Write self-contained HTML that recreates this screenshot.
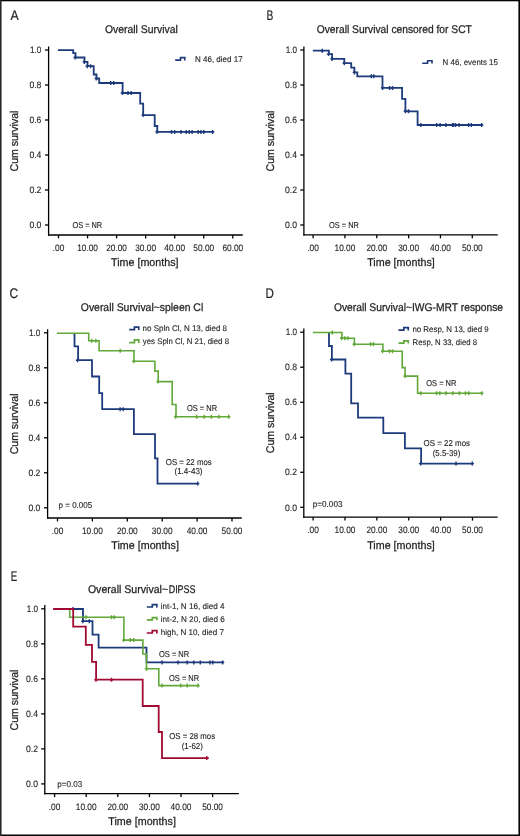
<!DOCTYPE html><html><head><meta charset="utf-8"><style>html,body{margin:0;padding:0;background:#fff;}svg{display:block;will-change:transform;text-rendering:geometricPrecision;}text{stroke:#231f20;stroke-width:0.12px;}text[font-size="11.2"]{stroke-width:0.26px;}text[font-size="13.9"]{stroke-width:0.2px;}svg{font-family:"Liberation Sans",sans-serif;}</style></head><body>
<svg width="520" height="836" viewBox="0 0 520 836">
<rect x="0" y="0" width="520" height="836" fill="#fff"/>
<line x1="48.60" y1="46.50" x2="48.60" y2="235.60" stroke="#000000" stroke-width="1.3"/>
<line x1="48.00" y1="235.00" x2="242.80" y2="235.00" stroke="#000000" stroke-width="1.3"/>
<line x1="45.00" y1="225.00" x2="48.60" y2="225.00" stroke="#000000" stroke-width="1.3"/>
<text x="41.40" y="228.20" font-size="9.3" textLength="12.00" lengthAdjust="spacingAndGlyphs" text-anchor="end" fill="#231f20">0.0</text>
<line x1="45.00" y1="190.00" x2="48.60" y2="190.00" stroke="#000000" stroke-width="1.3"/>
<text x="41.40" y="193.20" font-size="9.3" textLength="12.00" lengthAdjust="spacingAndGlyphs" text-anchor="end" fill="#231f20">0.2</text>
<line x1="45.00" y1="155.00" x2="48.60" y2="155.00" stroke="#000000" stroke-width="1.3"/>
<text x="41.40" y="158.20" font-size="9.3" textLength="12.00" lengthAdjust="spacingAndGlyphs" text-anchor="end" fill="#231f20">0.4</text>
<line x1="45.00" y1="120.00" x2="48.60" y2="120.00" stroke="#000000" stroke-width="1.3"/>
<text x="41.40" y="123.20" font-size="9.3" textLength="12.00" lengthAdjust="spacingAndGlyphs" text-anchor="end" fill="#231f20">0.6</text>
<line x1="45.00" y1="85.00" x2="48.60" y2="85.00" stroke="#000000" stroke-width="1.3"/>
<text x="41.40" y="88.20" font-size="9.3" textLength="12.00" lengthAdjust="spacingAndGlyphs" text-anchor="end" fill="#231f20">0.8</text>
<line x1="45.00" y1="50.00" x2="48.60" y2="50.00" stroke="#000000" stroke-width="1.3"/>
<text x="41.40" y="53.20" font-size="9.3" textLength="11.30" lengthAdjust="spacingAndGlyphs" text-anchor="end" fill="#231f20">1.0</text>
<line x1="58.50" y1="235.00" x2="58.50" y2="238.40" stroke="#000000" stroke-width="1.3"/>
<text x="58.50" y="250.80" font-size="9.3" textLength="11.60" lengthAdjust="spacingAndGlyphs" text-anchor="middle" fill="#231f20">.00</text>
<line x1="87.55" y1="235.00" x2="87.55" y2="238.40" stroke="#000000" stroke-width="1.3"/>
<text x="87.55" y="250.80" font-size="9.3" textLength="20.80" lengthAdjust="spacingAndGlyphs" text-anchor="middle" fill="#231f20">10.00</text>
<line x1="116.60" y1="235.00" x2="116.60" y2="238.40" stroke="#000000" stroke-width="1.3"/>
<text x="116.60" y="250.80" font-size="9.3" textLength="20.80" lengthAdjust="spacingAndGlyphs" text-anchor="middle" fill="#231f20">20.00</text>
<line x1="145.65" y1="235.00" x2="145.65" y2="238.40" stroke="#000000" stroke-width="1.3"/>
<text x="145.65" y="250.80" font-size="9.3" textLength="20.80" lengthAdjust="spacingAndGlyphs" text-anchor="middle" fill="#231f20">30.00</text>
<line x1="174.70" y1="235.00" x2="174.70" y2="238.40" stroke="#000000" stroke-width="1.3"/>
<text x="174.70" y="250.80" font-size="9.3" textLength="20.80" lengthAdjust="spacingAndGlyphs" text-anchor="middle" fill="#231f20">40.00</text>
<line x1="203.75" y1="235.00" x2="203.75" y2="238.40" stroke="#000000" stroke-width="1.3"/>
<text x="203.75" y="250.80" font-size="9.3" textLength="20.80" lengthAdjust="spacingAndGlyphs" text-anchor="middle" fill="#231f20">50.00</text>
<line x1="232.80" y1="235.00" x2="232.80" y2="238.40" stroke="#000000" stroke-width="1.3"/>
<text x="232.80" y="250.80" font-size="9.3" textLength="20.80" lengthAdjust="spacingAndGlyphs" text-anchor="middle" fill="#231f20">60.00</text>
<line x1="303.90" y1="46.50" x2="303.90" y2="235.50" stroke="#000000" stroke-width="1.3"/>
<line x1="303.30" y1="234.90" x2="497.80" y2="234.90" stroke="#000000" stroke-width="1.3"/>
<line x1="300.30" y1="225.00" x2="303.90" y2="225.00" stroke="#000000" stroke-width="1.3"/>
<text x="297.00" y="228.20" font-size="9.3" textLength="12.00" lengthAdjust="spacingAndGlyphs" text-anchor="end" fill="#231f20">0.0</text>
<line x1="300.30" y1="190.00" x2="303.90" y2="190.00" stroke="#000000" stroke-width="1.3"/>
<text x="297.00" y="193.20" font-size="9.3" textLength="12.00" lengthAdjust="spacingAndGlyphs" text-anchor="end" fill="#231f20">0.2</text>
<line x1="300.30" y1="155.00" x2="303.90" y2="155.00" stroke="#000000" stroke-width="1.3"/>
<text x="297.00" y="158.20" font-size="9.3" textLength="12.00" lengthAdjust="spacingAndGlyphs" text-anchor="end" fill="#231f20">0.4</text>
<line x1="300.30" y1="120.00" x2="303.90" y2="120.00" stroke="#000000" stroke-width="1.3"/>
<text x="297.00" y="123.20" font-size="9.3" textLength="12.00" lengthAdjust="spacingAndGlyphs" text-anchor="end" fill="#231f20">0.6</text>
<line x1="300.30" y1="85.00" x2="303.90" y2="85.00" stroke="#000000" stroke-width="1.3"/>
<text x="297.00" y="88.20" font-size="9.3" textLength="12.00" lengthAdjust="spacingAndGlyphs" text-anchor="end" fill="#231f20">0.8</text>
<line x1="300.30" y1="50.00" x2="303.90" y2="50.00" stroke="#000000" stroke-width="1.3"/>
<text x="297.00" y="53.20" font-size="9.3" textLength="11.30" lengthAdjust="spacingAndGlyphs" text-anchor="end" fill="#231f20">1.0</text>
<line x1="313.10" y1="234.90" x2="313.10" y2="238.30" stroke="#000000" stroke-width="1.3"/>
<text x="313.10" y="250.70" font-size="9.3" textLength="11.60" lengthAdjust="spacingAndGlyphs" text-anchor="middle" fill="#231f20">.00</text>
<line x1="344.94" y1="234.90" x2="344.94" y2="238.30" stroke="#000000" stroke-width="1.3"/>
<text x="344.94" y="250.70" font-size="9.3" textLength="20.80" lengthAdjust="spacingAndGlyphs" text-anchor="middle" fill="#231f20">10.00</text>
<line x1="376.78" y1="234.90" x2="376.78" y2="238.30" stroke="#000000" stroke-width="1.3"/>
<text x="376.78" y="250.70" font-size="9.3" textLength="20.80" lengthAdjust="spacingAndGlyphs" text-anchor="middle" fill="#231f20">20.00</text>
<line x1="408.62" y1="234.90" x2="408.62" y2="238.30" stroke="#000000" stroke-width="1.3"/>
<text x="408.62" y="250.70" font-size="9.3" textLength="20.80" lengthAdjust="spacingAndGlyphs" text-anchor="middle" fill="#231f20">30.00</text>
<line x1="440.46" y1="234.90" x2="440.46" y2="238.30" stroke="#000000" stroke-width="1.3"/>
<text x="440.46" y="250.70" font-size="9.3" textLength="20.80" lengthAdjust="spacingAndGlyphs" text-anchor="middle" fill="#231f20">40.00</text>
<line x1="472.30" y1="234.90" x2="472.30" y2="238.30" stroke="#000000" stroke-width="1.3"/>
<text x="472.30" y="250.70" font-size="9.3" textLength="20.80" lengthAdjust="spacingAndGlyphs" text-anchor="middle" fill="#231f20">50.00</text>
<line x1="47.60" y1="329.20" x2="47.60" y2="518.60" stroke="#000000" stroke-width="1.3"/>
<line x1="47.00" y1="518.00" x2="241.80" y2="518.00" stroke="#000000" stroke-width="1.3"/>
<line x1="44.00" y1="507.80" x2="47.60" y2="507.80" stroke="#000000" stroke-width="1.3"/>
<text x="40.40" y="511.00" font-size="9.3" textLength="12.00" lengthAdjust="spacingAndGlyphs" text-anchor="end" fill="#231f20">0.0</text>
<line x1="44.00" y1="472.80" x2="47.60" y2="472.80" stroke="#000000" stroke-width="1.3"/>
<text x="40.40" y="476.00" font-size="9.3" textLength="12.00" lengthAdjust="spacingAndGlyphs" text-anchor="end" fill="#231f20">0.2</text>
<line x1="44.00" y1="437.80" x2="47.60" y2="437.80" stroke="#000000" stroke-width="1.3"/>
<text x="40.40" y="441.00" font-size="9.3" textLength="12.00" lengthAdjust="spacingAndGlyphs" text-anchor="end" fill="#231f20">0.4</text>
<line x1="44.00" y1="402.80" x2="47.60" y2="402.80" stroke="#000000" stroke-width="1.3"/>
<text x="40.40" y="406.00" font-size="9.3" textLength="12.00" lengthAdjust="spacingAndGlyphs" text-anchor="end" fill="#231f20">0.6</text>
<line x1="44.00" y1="367.80" x2="47.60" y2="367.80" stroke="#000000" stroke-width="1.3"/>
<text x="40.40" y="371.00" font-size="9.3" textLength="12.00" lengthAdjust="spacingAndGlyphs" text-anchor="end" fill="#231f20">0.8</text>
<line x1="44.00" y1="332.80" x2="47.60" y2="332.80" stroke="#000000" stroke-width="1.3"/>
<text x="40.40" y="336.00" font-size="9.3" textLength="11.30" lengthAdjust="spacingAndGlyphs" text-anchor="end" fill="#231f20">1.0</text>
<line x1="57.50" y1="518.00" x2="57.50" y2="521.40" stroke="#000000" stroke-width="1.3"/>
<text x="57.50" y="533.80" font-size="9.3" textLength="11.60" lengthAdjust="spacingAndGlyphs" text-anchor="middle" fill="#231f20">.00</text>
<line x1="92.40" y1="518.00" x2="92.40" y2="521.40" stroke="#000000" stroke-width="1.3"/>
<text x="92.40" y="533.80" font-size="9.3" textLength="20.80" lengthAdjust="spacingAndGlyphs" text-anchor="middle" fill="#231f20">10.00</text>
<line x1="127.30" y1="518.00" x2="127.30" y2="521.40" stroke="#000000" stroke-width="1.3"/>
<text x="127.30" y="533.80" font-size="9.3" textLength="20.80" lengthAdjust="spacingAndGlyphs" text-anchor="middle" fill="#231f20">20.00</text>
<line x1="162.20" y1="518.00" x2="162.20" y2="521.40" stroke="#000000" stroke-width="1.3"/>
<text x="162.20" y="533.80" font-size="9.3" textLength="20.80" lengthAdjust="spacingAndGlyphs" text-anchor="middle" fill="#231f20">30.00</text>
<line x1="197.10" y1="518.00" x2="197.10" y2="521.40" stroke="#000000" stroke-width="1.3"/>
<text x="197.10" y="533.80" font-size="9.3" textLength="20.80" lengthAdjust="spacingAndGlyphs" text-anchor="middle" fill="#231f20">40.00</text>
<line x1="232.00" y1="518.00" x2="232.00" y2="521.40" stroke="#000000" stroke-width="1.3"/>
<text x="232.00" y="533.80" font-size="9.3" textLength="20.80" lengthAdjust="spacingAndGlyphs" text-anchor="middle" fill="#231f20">50.00</text>
<line x1="303.80" y1="328.50" x2="303.80" y2="517.80" stroke="#000000" stroke-width="1.3"/>
<line x1="303.20" y1="517.20" x2="497.70" y2="517.20" stroke="#000000" stroke-width="1.3"/>
<line x1="300.20" y1="507.30" x2="303.80" y2="507.30" stroke="#000000" stroke-width="1.3"/>
<text x="297.00" y="510.50" font-size="9.3" textLength="12.00" lengthAdjust="spacingAndGlyphs" text-anchor="end" fill="#231f20">0.0</text>
<line x1="300.20" y1="472.28" x2="303.80" y2="472.28" stroke="#000000" stroke-width="1.3"/>
<text x="297.00" y="475.48" font-size="9.3" textLength="12.00" lengthAdjust="spacingAndGlyphs" text-anchor="end" fill="#231f20">0.2</text>
<line x1="300.20" y1="437.26" x2="303.80" y2="437.26" stroke="#000000" stroke-width="1.3"/>
<text x="297.00" y="440.46" font-size="9.3" textLength="12.00" lengthAdjust="spacingAndGlyphs" text-anchor="end" fill="#231f20">0.4</text>
<line x1="300.20" y1="402.24" x2="303.80" y2="402.24" stroke="#000000" stroke-width="1.3"/>
<text x="297.00" y="405.44" font-size="9.3" textLength="12.00" lengthAdjust="spacingAndGlyphs" text-anchor="end" fill="#231f20">0.6</text>
<line x1="300.20" y1="367.22" x2="303.80" y2="367.22" stroke="#000000" stroke-width="1.3"/>
<text x="297.00" y="370.42" font-size="9.3" textLength="12.00" lengthAdjust="spacingAndGlyphs" text-anchor="end" fill="#231f20">0.8</text>
<line x1="300.20" y1="332.20" x2="303.80" y2="332.20" stroke="#000000" stroke-width="1.3"/>
<text x="297.00" y="335.40" font-size="9.3" textLength="11.30" lengthAdjust="spacingAndGlyphs" text-anchor="end" fill="#231f20">1.0</text>
<line x1="313.10" y1="517.20" x2="313.10" y2="520.60" stroke="#000000" stroke-width="1.3"/>
<text x="313.10" y="533.00" font-size="9.3" textLength="11.60" lengthAdjust="spacingAndGlyphs" text-anchor="middle" fill="#231f20">.00</text>
<line x1="344.98" y1="517.20" x2="344.98" y2="520.60" stroke="#000000" stroke-width="1.3"/>
<text x="344.98" y="533.00" font-size="9.3" textLength="20.80" lengthAdjust="spacingAndGlyphs" text-anchor="middle" fill="#231f20">10.00</text>
<line x1="376.86" y1="517.20" x2="376.86" y2="520.60" stroke="#000000" stroke-width="1.3"/>
<text x="376.86" y="533.00" font-size="9.3" textLength="20.80" lengthAdjust="spacingAndGlyphs" text-anchor="middle" fill="#231f20">20.00</text>
<line x1="408.74" y1="517.20" x2="408.74" y2="520.60" stroke="#000000" stroke-width="1.3"/>
<text x="408.74" y="533.00" font-size="9.3" textLength="20.80" lengthAdjust="spacingAndGlyphs" text-anchor="middle" fill="#231f20">30.00</text>
<line x1="440.62" y1="517.20" x2="440.62" y2="520.60" stroke="#000000" stroke-width="1.3"/>
<text x="440.62" y="533.00" font-size="9.3" textLength="20.80" lengthAdjust="spacingAndGlyphs" text-anchor="middle" fill="#231f20">40.00</text>
<line x1="472.50" y1="517.20" x2="472.50" y2="520.60" stroke="#000000" stroke-width="1.3"/>
<text x="472.50" y="533.00" font-size="9.3" textLength="20.80" lengthAdjust="spacingAndGlyphs" text-anchor="middle" fill="#231f20">50.00</text>
<line x1="44.80" y1="605.10" x2="44.80" y2="794.30" stroke="#000000" stroke-width="1.3"/>
<line x1="44.20" y1="793.70" x2="238.90" y2="793.70" stroke="#000000" stroke-width="1.3"/>
<line x1="41.20" y1="783.90" x2="44.80" y2="783.90" stroke="#000000" stroke-width="1.3"/>
<text x="38.00" y="787.10" font-size="9.3" textLength="12.00" lengthAdjust="spacingAndGlyphs" text-anchor="end" fill="#231f20">0.0</text>
<line x1="41.20" y1="748.88" x2="44.80" y2="748.88" stroke="#000000" stroke-width="1.3"/>
<text x="38.00" y="752.08" font-size="9.3" textLength="12.00" lengthAdjust="spacingAndGlyphs" text-anchor="end" fill="#231f20">0.2</text>
<line x1="41.20" y1="713.86" x2="44.80" y2="713.86" stroke="#000000" stroke-width="1.3"/>
<text x="38.00" y="717.06" font-size="9.3" textLength="12.00" lengthAdjust="spacingAndGlyphs" text-anchor="end" fill="#231f20">0.4</text>
<line x1="41.20" y1="678.84" x2="44.80" y2="678.84" stroke="#000000" stroke-width="1.3"/>
<text x="38.00" y="682.04" font-size="9.3" textLength="12.00" lengthAdjust="spacingAndGlyphs" text-anchor="end" fill="#231f20">0.6</text>
<line x1="41.20" y1="643.82" x2="44.80" y2="643.82" stroke="#000000" stroke-width="1.3"/>
<text x="38.00" y="647.02" font-size="9.3" textLength="12.00" lengthAdjust="spacingAndGlyphs" text-anchor="end" fill="#231f20">0.8</text>
<line x1="41.20" y1="608.80" x2="44.80" y2="608.80" stroke="#000000" stroke-width="1.3"/>
<text x="38.00" y="612.00" font-size="9.3" textLength="11.30" lengthAdjust="spacingAndGlyphs" text-anchor="end" fill="#231f20">1.0</text>
<line x1="54.60" y1="793.70" x2="54.60" y2="797.10" stroke="#000000" stroke-width="1.3"/>
<text x="54.60" y="809.50" font-size="9.3" textLength="11.60" lengthAdjust="spacingAndGlyphs" text-anchor="middle" fill="#231f20">.00</text>
<line x1="86.20" y1="793.70" x2="86.20" y2="797.10" stroke="#000000" stroke-width="1.3"/>
<text x="86.20" y="809.50" font-size="9.3" textLength="20.80" lengthAdjust="spacingAndGlyphs" text-anchor="middle" fill="#231f20">10.00</text>
<line x1="117.80" y1="793.70" x2="117.80" y2="797.10" stroke="#000000" stroke-width="1.3"/>
<text x="117.80" y="809.50" font-size="9.3" textLength="20.80" lengthAdjust="spacingAndGlyphs" text-anchor="middle" fill="#231f20">20.00</text>
<line x1="149.40" y1="793.70" x2="149.40" y2="797.10" stroke="#000000" stroke-width="1.3"/>
<text x="149.40" y="809.50" font-size="9.3" textLength="20.80" lengthAdjust="spacingAndGlyphs" text-anchor="middle" fill="#231f20">30.00</text>
<line x1="181.00" y1="793.70" x2="181.00" y2="797.10" stroke="#000000" stroke-width="1.3"/>
<text x="181.00" y="809.50" font-size="9.3" textLength="20.80" lengthAdjust="spacingAndGlyphs" text-anchor="middle" fill="#231f20">40.00</text>
<line x1="212.60" y1="793.70" x2="212.60" y2="797.10" stroke="#000000" stroke-width="1.3"/>
<text x="212.60" y="809.50" font-size="9.3" textLength="20.80" lengthAdjust="spacingAndGlyphs" text-anchor="middle" fill="#231f20">50.00</text>
<text x="10.50" y="19.80" font-size="13.9" textLength="8.20" lengthAdjust="spacingAndGlyphs" fill="#231f20">A</text>
<text x="266.40" y="19.70" font-size="13.9" textLength="6.80" lengthAdjust="spacingAndGlyphs" fill="#231f20">B</text>
<text x="9.60" y="298.30" font-size="13.9" textLength="8.60" lengthAdjust="spacingAndGlyphs" fill="#231f20">C</text>
<text x="265.60" y="298.00" font-size="13.9" textLength="8.40" lengthAdjust="spacingAndGlyphs" fill="#231f20">D</text>
<text x="10.70" y="580.60" font-size="13.9" textLength="6.50" lengthAdjust="spacingAndGlyphs" fill="#231f20">E</text>
<text x="105.00" y="32.60" font-size="11.2" textLength="72.80" lengthAdjust="spacingAndGlyphs" fill="#231f20">Overall Survival</text>
<text x="316.70" y="32.60" font-size="11.2" textLength="155.20" lengthAdjust="spacingAndGlyphs" fill="#231f20">Overall Survival censored for SCT</text>
<text x="80.80" y="310.70" font-size="11.2" textLength="122.40" lengthAdjust="spacingAndGlyphs" fill="#231f20">Overall Survival~spleen Cl</text>
<text x="333.90" y="310.70" font-size="11.2" textLength="169.20" lengthAdjust="spacingAndGlyphs" fill="#231f20">Overall Survival~IWG-MRT response</text>
<text x="87.90" y="592.70" font-size="11.2" textLength="80.20" lengthAdjust="spacingAndGlyphs" fill="#231f20">Overall Survival~</text>
<text x="168.70" y="592.70" font-size="11.2" textLength="26.80" lengthAdjust="spacingAndGlyphs" fill="#231f20">DIPSS</text>
<text x="111.00" y="266.00" font-size="11.2" textLength="67.60" lengthAdjust="spacingAndGlyphs" fill="#231f20">Time [months]</text>
<text x="367.20" y="266.00" font-size="11.2" textLength="67.60" lengthAdjust="spacingAndGlyphs" fill="#231f20">Time [months]</text>
<text x="111.30" y="548.60" font-size="11.2" textLength="67.60" lengthAdjust="spacingAndGlyphs" fill="#231f20">Time [months]</text>
<text x="367.20" y="548.80" font-size="11.2" textLength="67.60" lengthAdjust="spacingAndGlyphs" fill="#231f20">Time [months]</text>
<text x="108.30" y="824.70" font-size="11.2" textLength="67.60" lengthAdjust="spacingAndGlyphs" fill="#231f20">Time [months]</text>
<text transform="translate(18.30,171.40) rotate(-90)" x="0" y="0" font-size="11.2" textLength="60.80" lengthAdjust="spacingAndGlyphs" fill="#231f20">Cum survival</text>
<text transform="translate(273.80,171.40) rotate(-90)" x="0" y="0" font-size="11.2" textLength="60.80" lengthAdjust="spacingAndGlyphs" fill="#231f20">Cum survival</text>
<text transform="translate(18.30,454.30) rotate(-90)" x="0" y="0" font-size="11.2" textLength="60.80" lengthAdjust="spacingAndGlyphs" fill="#231f20">Cum survival</text>
<text transform="translate(273.90,453.20) rotate(-90)" x="0" y="0" font-size="11.2" textLength="60.80" lengthAdjust="spacingAndGlyphs" fill="#231f20">Cum survival</text>
<text transform="translate(18.40,730.40) rotate(-90)" x="0" y="0" font-size="11.2" textLength="60.80" lengthAdjust="spacingAndGlyphs" fill="#231f20">Cum survival</text>
<path d="M57.90,50.10H73.20V53.20H75.50V57.50H84.50V61.90H87.50V66.20H93.70V74.50H96.50V78.50H99.20V83.00H122.60V93.00H140.20V103.60H143.20V115.10H154.70V126.00H157.30V131.90H214.00" fill="none" stroke="#1d3b7a" stroke-width="1.8" stroke-linejoin="miter" stroke-linecap="butt"/>
<path d="M75.20,55.50v4.00M73.50,57.50h3.40M84.30,59.90v4.00M82.60,61.90h3.40M87.30,64.20v4.00M85.60,66.20h3.40M90.60,64.20v4.00M88.90,66.20h3.40M96.30,76.50v4.00M94.60,78.50h3.40M110.70,81.00v4.00M109.00,83.00h3.40M113.70,81.00v4.00M112.00,83.00h3.40M122.40,91.00v4.00M120.70,93.00h3.40M128.00,91.00v4.00M126.30,93.00h3.40M131.20,91.00v4.00M129.50,93.00h3.40M143.20,113.10v4.00M141.50,115.10h3.40M157.00,129.90v4.00M155.30,131.90h3.40M171.50,129.90v4.00M169.80,131.90h3.40M174.60,129.90v4.00M172.90,131.90h3.40M181.00,129.90v4.00M179.30,131.90h3.40M186.30,129.90v4.00M184.60,131.90h3.40M189.30,129.90v4.00M187.60,131.90h3.40M192.10,129.90v4.00M190.40,131.90h3.40M198.20,129.90v4.00M196.50,131.90h3.40M200.90,129.90v4.00M199.20,131.90h3.40M203.80,129.90v4.00M202.10,131.90h3.40M212.60,129.90v4.00M210.90,131.90h3.40" stroke="#1d3b7a" stroke-width="1.4" fill="none"/>
<path d="M175.20,60.10H180.48V57.60H184.80V60.50" fill="none" stroke="#1d3b7a" stroke-width="1.6" stroke-linejoin="miter"/>
<text x="195.00" y="62.20" font-size="8.2" textLength="47.60" lengthAdjust="spacingAndGlyphs" fill="#231f20">N 46, died 17</text>
<text x="72.40" y="228.10" font-size="8.6" textLength="29.80" lengthAdjust="spacingAndGlyphs" fill="#231f20">OS = NR</text>
<path d="M312.90,50.70H328.90V54.10H332.10V58.90H344.30V63.20H351.20V67.60H354.40V72.40H357.30V76.30H382.50V87.90H402.10V98.80H405.40V111.30H417.60V125.00H482.60" fill="none" stroke="#1d3b7a" stroke-width="1.8" stroke-linejoin="miter" stroke-linecap="butt"/>
<path d="M322.30,48.70v4.00M320.60,50.70h3.40M328.50,52.10v4.00M326.80,54.10h3.40M332.00,56.90v4.00M330.30,58.90h3.40M344.30,61.20v4.00M342.60,63.20h3.40M354.40,70.40v4.00M352.70,72.40h3.40M371.30,74.30v4.00M369.60,76.30h3.40M373.70,74.30v4.00M372.00,76.30h3.40M382.50,85.90v4.00M380.80,87.90h3.40M389.60,85.90v4.00M387.90,87.90h3.40M392.50,85.90v4.00M390.80,87.90h3.40M405.40,109.30v4.00M403.70,111.30h3.40M408.50,109.30v4.00M406.80,111.30h3.40M420.80,123.00v4.00M419.10,125.00h3.40M436.70,123.00v4.00M435.00,125.00h3.40M440.10,123.00v4.00M438.40,125.00h3.40M445.90,123.00v4.00M444.20,125.00h3.40M452.50,123.00v4.00M450.80,125.00h3.40M453.60,123.00v4.00M451.90,125.00h3.40M455.60,123.00v4.00M453.90,125.00h3.40M459.10,123.00v4.00M457.40,125.00h3.40M468.60,123.00v4.00M466.90,125.00h3.40M471.30,123.00v4.00M469.60,125.00h3.40M481.60,123.00v4.00M479.90,125.00h3.40" stroke="#1d3b7a" stroke-width="1.4" fill="none"/>
<path d="M422.20,63.20H427.59V60.80H432.00V63.60" fill="none" stroke="#1d3b7a" stroke-width="1.6" stroke-linejoin="miter"/>
<text x="442.60" y="64.50" font-size="8.2" textLength="55.30" lengthAdjust="spacingAndGlyphs" fill="#231f20">N 46, events 15</text>
<text x="329.00" y="227.80" font-size="8.6" textLength="29.90" lengthAdjust="spacingAndGlyphs" fill="#231f20">OS = NR</text>
<path d="M74.50,333.30H74.50V346.30H78.10V360.20H92.00V376.50H99.20V393.20H102.20V409.20H133.90V434.20H155.00V458.40H157.50V483.60H198.60" fill="none" stroke="#1d3b7a" stroke-width="1.8" stroke-linejoin="miter" stroke-linecap="butt"/>
<path d="M77.60,358.20v4.00M75.90,360.20h3.40M120.10,407.20v4.00M118.40,409.20h3.40M123.20,407.20v4.00M121.50,409.20h3.40M197.70,481.60v4.00M196.00,483.60h3.40" stroke="#1d3b7a" stroke-width="1.4" fill="none"/>
<path d="M56.90,333.30H88.70V340.80H99.10V350.70H134.00V361.20H154.90V371.10H158.20V381.60H172.20V404.50H176.00V416.80H229.60" fill="none" stroke="#62a83a" stroke-width="1.6" stroke-linejoin="miter" stroke-linecap="butt"/>
<path d="M91.80,338.80v4.00M90.10,340.80h3.40M95.90,338.80v4.00M94.20,340.80h3.40M120.20,348.70v4.00M118.50,350.70h3.40M133.80,359.20v4.00M132.10,361.20h3.40M158.00,379.60v4.00M156.30,381.60h3.40M175.60,414.80v4.00M173.90,416.80h3.40M196.70,414.80v4.00M195.00,416.80h3.40M204.20,414.80v4.00M202.50,416.80h3.40M211.40,414.80v4.00M209.70,416.80h3.40M218.90,414.80v4.00M217.20,416.80h3.40M228.70,414.80v4.00M227.00,416.80h3.40" stroke="#62a83a" stroke-width="1.4" fill="none"/>
<path d="M129.20,329.70H134.45V327.10H138.75V330.10" fill="none" stroke="#1d3b7a" stroke-width="1.7" stroke-linejoin="miter"/>
<path d="M129.20,342.60H134.45V339.90H138.75V343.00" fill="none" stroke="#62a83a" stroke-width="1.7" stroke-linejoin="miter"/>
<text x="142.60" y="330.60" font-size="8.2" textLength="84.40" lengthAdjust="spacingAndGlyphs" fill="#231f20">no Spln Cl, N 13, died 8</text>
<text x="142.80" y="343.50" font-size="8.2" textLength="86.20" lengthAdjust="spacingAndGlyphs" fill="#231f20">yes Spln Cl, N 21, died 8</text>
<text x="187.00" y="411.40" font-size="8.6" textLength="30.10" lengthAdjust="spacingAndGlyphs" fill="#231f20">OS = NR</text>
<text x="165.80" y="464.80" font-size="8.6" textLength="45.90" lengthAdjust="spacingAndGlyphs" fill="#231f20">OS = 22 mos</text>
<text x="174.50" y="474.20" font-size="8.6" textLength="28.00" lengthAdjust="spacingAndGlyphs" fill="#231f20">(1.4-43)</text>
<text x="58.60" y="507.50" font-size="8.6" textLength="33.60" lengthAdjust="spacingAndGlyphs" fill="#231f20">p = 0.005</text>
<path d="M329.00,332.50H329.00V346.00H331.90V359.50H345.40V373.70H351.20V403.30H358.00V417.70H383.30V433.10H404.90V448.40H421.10V463.60H473.20" fill="none" stroke="#1d3b7a" stroke-width="1.8" stroke-linejoin="miter" stroke-linecap="butt"/>
<path d="M331.60,357.50v4.00M329.90,359.50h3.40M420.60,461.60v4.00M418.90,463.60h3.40M456.00,461.60v4.00M454.30,463.60h3.40M472.30,461.60v4.00M470.60,463.60h3.40" stroke="#1d3b7a" stroke-width="1.4" fill="none"/>
<path d="M312.90,332.50H341.90V338.20H354.40V344.20H382.90V351.20H402.20V367.60H405.10V376.10H417.60V393.30H482.60" fill="none" stroke="#62a83a" stroke-width="1.6" stroke-linejoin="miter" stroke-linecap="butt"/>
<path d="M332.30,330.50v4.00M330.60,332.50h3.40M341.60,336.20v4.00M339.90,338.20h3.40M344.80,336.20v4.00M343.10,338.20h3.40M347.80,336.20v4.00M346.10,338.20h3.40M354.20,342.20v4.00M352.50,344.20h3.40M370.60,342.20v4.00M368.90,344.20h3.40M373.40,342.20v4.00M371.70,344.20h3.40M382.60,349.20v4.00M380.90,351.20h3.40M389.40,349.20v4.00M387.70,351.20h3.40M392.50,349.20v4.00M390.80,351.20h3.40M405.00,374.10v4.00M403.30,376.10h3.40M420.80,391.30v4.00M419.10,393.30h3.40M436.60,391.30v4.00M434.90,393.30h3.40M439.80,391.30v4.00M438.10,393.30h3.40M446.00,391.30v4.00M444.30,393.30h3.40M452.80,391.30v4.00M451.10,393.30h3.40M459.40,391.30v4.00M457.70,393.30h3.40M465.50,391.30v4.00M463.80,393.30h3.40M468.70,391.30v4.00M467.00,393.30h3.40M481.70,391.30v4.00M480.00,393.30h3.40" stroke="#62a83a" stroke-width="1.4" fill="none"/>
<path d="M398.50,330.10H403.86V327.60H408.25V330.50" fill="none" stroke="#1d3b7a" stroke-width="1.7" stroke-linejoin="miter"/>
<path d="M398.50,343.10H403.86V340.80H408.25V343.50" fill="none" stroke="#62a83a" stroke-width="1.7" stroke-linejoin="miter"/>
<text x="412.40" y="331.50" font-size="8.2" textLength="76.30" lengthAdjust="spacingAndGlyphs" fill="#231f20">no Resp, N 13, died 9</text>
<text x="412.60" y="344.60" font-size="8.2" textLength="64.50" lengthAdjust="spacingAndGlyphs" fill="#231f20">Resp, N 33, died 8</text>
<text x="426.30" y="386.40" font-size="8.6" textLength="30.10" lengthAdjust="spacingAndGlyphs" fill="#231f20">OS = NR</text>
<text x="423.60" y="445.90" font-size="8.6" textLength="46.40" lengthAdjust="spacingAndGlyphs" fill="#231f20">OS = 22 mos</text>
<text x="432.70" y="456.20" font-size="8.6" textLength="27.60" lengthAdjust="spacingAndGlyphs" fill="#231f20">(5.5-39)</text>
<text x="312.70" y="506.70" font-size="8.6" textLength="29.80" lengthAdjust="spacingAndGlyphs" fill="#231f20">p=0.003</text>
<path d="M72.60,609.00H83.00V621.20H92.50V634.60H98.60V647.70H146.50V662.40H224.00" fill="none" stroke="#1d3b7a" stroke-width="1.8" stroke-linejoin="miter" stroke-linecap="butt"/>
<path d="M73.10,607.00v4.00M71.40,609.00h3.40M82.90,619.20v4.00M81.20,621.20h3.40M89.30,619.20v4.00M87.60,621.20h3.40M162.00,660.40v4.00M160.30,662.40h3.40M178.00,660.40v4.00M176.30,662.40h3.40M187.20,660.40v4.00M185.50,662.40h3.40M193.80,660.40v4.00M192.10,662.40h3.40M200.30,660.40v4.00M198.60,662.40h3.40M210.00,660.40v4.00M208.30,662.40h3.40M212.80,660.40v4.00M211.10,662.40h3.40M222.60,660.40v4.00M220.90,662.40h3.40" stroke="#1d3b7a" stroke-width="1.4" fill="none"/>
<path d="M69.70,609.00H69.70V617.30H123.90V640.10H142.90V654.00H146.50V668.70H158.80V685.60H199.20" fill="none" stroke="#62a83a" stroke-width="1.6" stroke-linejoin="miter" stroke-linecap="butt"/>
<path d="M86.00,615.30v4.00M84.30,617.30h3.40M111.50,615.30v4.00M109.80,617.30h3.40M114.30,615.30v4.00M112.60,617.30h3.40M123.70,638.10v4.00M122.00,640.10h3.40M130.40,638.10v4.00M128.70,640.10h3.40M133.80,638.10v4.00M132.10,640.10h3.40M146.50,666.70v4.00M144.80,668.70h3.40M162.00,683.60v4.00M160.30,685.60h3.40M180.80,683.60v4.00M179.10,685.60h3.40M187.20,683.60v4.00M185.50,685.60h3.40M198.00,683.60v4.00M196.30,685.60h3.40" stroke="#62a83a" stroke-width="1.4" fill="none"/>
<path d="M53.10,609.00H73.20V626.70H85.80V644.90H92.00V661.90H96.10V679.70H142.70V706.00H158.70V732.00H162.00V758.10H208.60" fill="none" stroke="#a00a32" stroke-width="1.8" stroke-linejoin="miter" stroke-linecap="butt"/>
<path d="M96.00,677.70v4.00M94.30,679.70h3.40M111.50,677.70v4.00M109.80,679.70h3.40M206.80,756.10v4.00M205.10,758.10h3.40" stroke="#a00a32" stroke-width="1.4" fill="none"/>
<path d="M146.80,607.00H152.33V604.70H156.85V607.40" fill="none" stroke="#1d3b7a" stroke-width="1.7" stroke-linejoin="miter"/>
<path d="M146.80,619.90H152.33V617.60H156.85V620.30" fill="none" stroke="#62a83a" stroke-width="1.7" stroke-linejoin="miter"/>
<path d="M146.80,633.00H152.33V630.70H156.85V633.40" fill="none" stroke="#a00a32" stroke-width="1.7" stroke-linejoin="miter"/>
<text x="160.70" y="608.50" font-size="8.2" textLength="63.70" lengthAdjust="spacingAndGlyphs" fill="#231f20">int-1, N 16, died 4</text>
<text x="160.70" y="621.50" font-size="8.2" textLength="64.10" lengthAdjust="spacingAndGlyphs" fill="#231f20">int-2, N 20, died 6</text>
<text x="160.70" y="634.50" font-size="8.2" textLength="63.30" lengthAdjust="spacingAndGlyphs" fill="#231f20">high, N 10, died 7</text>
<text x="159.00" y="657.30" font-size="8.6" textLength="30.20" lengthAdjust="spacingAndGlyphs" fill="#231f20">OS = NR</text>
<text x="169.00" y="680.70" font-size="8.6" textLength="30.20" lengthAdjust="spacingAndGlyphs" fill="#231f20">OS = NR</text>
<text x="169.30" y="739.40" font-size="8.6" textLength="45.80" lengthAdjust="spacingAndGlyphs" fill="#231f20">OS = 28 mos</text>
<text x="181.70" y="749.20" font-size="8.6" textLength="21.20" lengthAdjust="spacingAndGlyphs" fill="#231f20">(1-62)</text>
<text x="57.30" y="787.30" font-size="8.6" textLength="24.90" lengthAdjust="spacingAndGlyphs" fill="#231f20">p=0.03</text>
<rect x="0" y="0" width="520" height="1.3" fill="#050505"/>
<rect x="518.4" y="0" width="1.6" height="836" fill="#050505"/>
<rect x="0" y="834.5" width="520" height="1.5" fill="#050505"/>
<rect x="0" y="0" width="1.55" height="836" fill="#262626"/>
</svg></body></html>
